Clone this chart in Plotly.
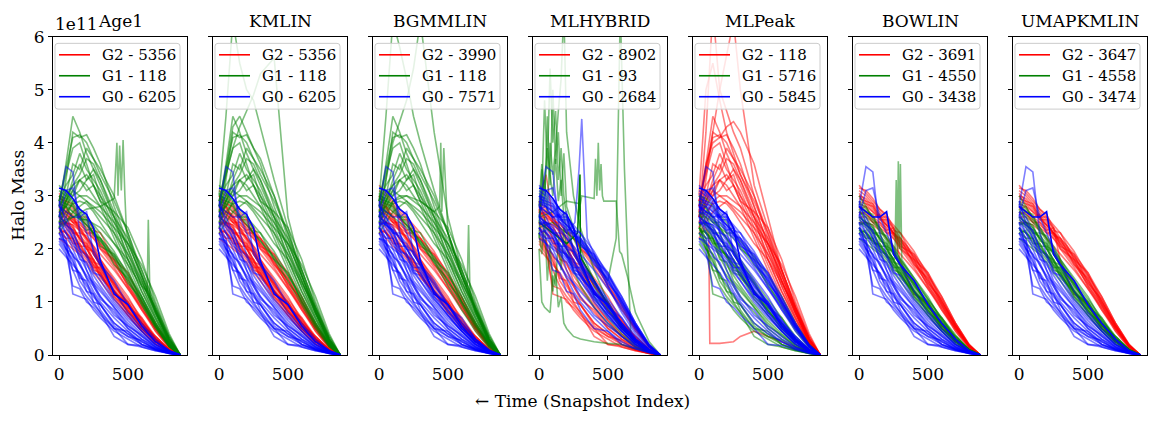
import plotly.graph_objects as go

# ---------------- data (halo mass in units of 1e11) ----------------
PANELS = ["Age1", "KMLIN", "BGMMLIN", "MLHYBRID", "MLPeak", "BOWLIN", "UMAPKMLIN"]
COUNT_G2 = [5356, 5356, 3990, 8902, 118, 3691, 3647]
COUNT_G1 = [118, 118, 118, 93, 5716, 4550, 4558]
COUNT_G0 = [6205, 6205, 7571, 2684, 5845, 3438, 3474]

SNAP = [0, 50, 100, 150, 200, 250, 300, 400, 500, 600, 700, 800, 880]

E01 = [2.4, 2.2, 1.15, 1.1, 1.05, 0.85, 0.7, 0.45, 0.3, 0.15, 0.08, 0.03, 0]
E02 = [2.3, 2.0, 1.75, 1.5, 1.3, 1.1, 0.95, 0.6, 0.4, 0.2, 0.1, 0.04, 0]
E03 = [2.6, 2.3, 2.0, 1.7, 1.45, 1.2, 1.0, 0.7, 0.45, 0.25, 0.12, 0.05, 0]
E04 = [2.1, 1.9, 1.6, 1.3, 1.1, 0.95, 0.8, 0.5, 0.35, 0.2, 0.1, 0.03, 0]
E05 = [2.5, 2.3, 2.1, 1.85, 1.6, 1.3, 1.1, 0.8, 0.5, 0.3, 0.15, 0.05, 0]
E06 = [2.8, 2.6, 2.3, 2.0, 1.6, 1.35, 1.1, 0.75, 0.55, 0.35, 0.15, 0.05, 0]
E07 = [2.2, 2.0, 1.8, 1.4, 1.2, 1.0, 0.8, 0.35, 0.2, 0.15, 0.08, 0.03, 0]
E08 = [2.4, 2.1, 1.9, 1.7, 1.5, 1.35, 1.2, 0.9, 0.6, 0.35, 0.18, 0.06, 0]
E09 = [2.0, 1.85, 1.7, 1.55, 1.35, 1.15, 0.95, 0.6, 0.4, 0.25, 0.12, 0.04, 0]
E10 = [2.7, 2.4, 2.2, 1.9, 1.7, 1.5, 1.3, 0.95, 0.65, 0.4, 0.2, 0.06, 0]
E11 = [2.8, 3.55, 3.45, 2.3, 1.9, 1.6, 1.4, 1.0, 0.7, 0.45, 0.2, 0.07, 0]
E12 = [2.6, 3.1, 3.15, 2.6, 2.3, 2.0, 1.7, 1.2, 0.8, 0.5, 0.25, 0.08, 0]
M01 = [2.5, 2.4, 2.25, 2.1, 1.9, 1.75, 1.6, 1.25, 0.9, 0.55, 0.28, 0.08, 0]
M02 = [2.7, 2.6, 2.4, 2.2, 2.0, 1.8, 1.6, 1.2, 0.85, 0.5, 0.25, 0.07, 0]
M03 = [2.3, 2.2, 2.05, 1.95, 1.8, 1.65, 1.5, 1.15, 0.8, 0.5, 0.25, 0.08, 0]
M04 = [2.9, 2.75, 2.6, 2.4, 2.2, 1.95, 1.75, 1.35, 0.95, 0.6, 0.3, 0.1, 0]
M05 = [2.6, 2.5, 2.35, 2.2, 2.0, 1.8, 1.55, 1.1, 0.75, 0.45, 0.2, 0.06, 0]
M06 = [2.4, 2.3, 2.2, 2.05, 1.85, 1.7, 1.5, 1.2, 0.9, 0.6, 0.3, 0.09, 0]
M07 = [2.8, 2.65, 2.5, 2.35, 2.15, 1.9, 1.7, 1.3, 1.0, 0.65, 0.32, 0.1, 0]
M08 = [2.2, 2.1, 2.0, 1.9, 1.75, 1.55, 1.4, 1.05, 0.75, 0.45, 0.22, 0.07, 0]
M09 = [3.0, 2.8, 2.55, 2.4, 2.2, 2.0, 1.8, 1.4, 1.05, 0.7, 0.35, 0.1, 0]
M10 = [2.5, 2.45, 2.3, 2.25, 2.1, 1.9, 1.7, 1.3, 0.95, 0.62, 0.3, 0.09, 0]
M11 = [2.6, 2.5, 2.4, 2.2, 2.05, 1.95, 1.75, 1.35, 1.0, 0.6, 0.3, 0.1, 0]
M12 = [2.35, 2.3, 2.15, 2.0, 1.9, 1.7, 1.55, 1.2, 0.85, 0.55, 0.27, 0.08, 0]
L01 = [2.9, 2.85, 2.7, 2.6, 2.45, 2.3, 2.15, 1.8, 1.4, 0.95, 0.5, 0.15, 0]
L02 = [3.1, 3.0, 2.85, 2.7, 2.55, 2.4, 2.2, 1.85, 1.45, 1.0, 0.55, 0.17, 0]
L03 = [2.6, 2.6, 2.5, 2.4, 2.3, 2.2, 2.05, 1.7, 1.35, 0.9, 0.45, 0.14, 0]
L04 = [2.8, 2.7, 2.6, 2.5, 2.4, 2.25, 2.1, 1.75, 1.3, 0.85, 0.45, 0.13, 0]
L05 = [3.2, 3.05, 2.9, 2.75, 2.6, 2.45, 2.3, 1.95, 1.5, 1.05, 0.55, 0.16, 0]
L06 = [2.7, 2.65, 2.55, 2.45, 2.35, 2.2, 2.0, 1.65, 1.25, 0.85, 0.5, 0.18, 0]
L07 = [3.0, 2.95, 2.8, 2.65, 2.5, 2.3, 2.15, 1.85, 1.5, 1.1, 0.6, 0.2, 0]
L08 = [2.5, 2.5, 2.45, 2.35, 2.2, 2.05, 1.9, 1.6, 1.25, 0.9, 0.5, 0.16, 0]
L09 = [2.85, 2.8, 2.7, 2.55, 2.45, 2.3, 2.2, 1.9, 1.55, 1.1, 0.6, 0.18, 0]
L10 = [2.95, 2.9, 2.75, 2.6, 2.45, 2.3, 2.1, 1.75, 1.4, 1.0, 0.55, 0.18, 0]
T01 = [3.15, 3.1, 2.95, 2.75, 2.65, 2.4, 1.77, 1.15, 0.95, 0.55, 0.25, 0.08, 0]
T02 = [2.8, 2.7, 2.6, 2.6, 2.7, 1.9, 1.7, 1.4, 0.95, 0.6, 0.3, 0.08, 0]
E13 = [2.3, 2.1, 1.6, 1.55, 1.2, 1.15, 0.85, 0.5, 0.45, 0.2, 0.12, 0.04, 0]
E14 = [2.5, 2.0, 1.9, 1.45, 1.4, 1.0, 0.95, 0.55, 0.35, 0.28, 0.1, 0.03, 0]
E15 = [2.2, 2.15, 1.85, 1.75, 1.45, 1.3, 1.05, 0.85, 0.5, 0.3, 0.14, 0.04, 0]
E16 = [2.65, 2.45, 2.35, 2.0, 1.85, 1.55, 1.5, 1.05, 0.75, 0.45, 0.2, 0.06, 0]
E17 = [2.9, 2.5, 2.2, 1.8, 1.75, 1.4, 1.25, 0.9, 0.55, 0.38, 0.16, 0.05, 0]
E18 = [2.15, 1.95, 1.3, 1.25, 1.0, 0.9, 0.75, 0.5, 0.2, 0.18, 0.1, 0.03, 0]
M13 = [2.45, 2.5, 2.3, 2.3, 2.0, 1.95, 1.65, 1.35, 0.9, 0.7, 0.3, 0.09, 0]
M14 = [2.75, 2.5, 2.45, 2.15, 2.1, 1.75, 1.7, 1.15, 1.0, 0.55, 0.35, 0.1, 0]
M15 = [2.3, 2.35, 2.1, 2.1, 1.85, 1.8, 1.45, 1.2, 0.8, 0.6, 0.25, 0.08, 0]
M16 = [2.55, 2.45, 2.35, 2.05, 2.05, 1.65, 1.65, 1.2, 0.95, 0.5, 0.3, 0.08, 0]
M17 = [2.85, 2.7, 2.65, 2.3, 2.25, 2.05, 1.8, 1.45, 1.1, 0.65, 0.35, 0.1, 0]
M18 = [2.4, 2.2, 2.2, 1.95, 1.9, 1.6, 1.55, 1.1, 0.85, 0.5, 0.25, 0.07, 0]
L11 = [2.75, 2.8, 2.6, 2.65, 2.35, 2.4, 2.05, 1.9, 1.35, 1.05, 0.55, 0.17, 0]
L12 = [3.05, 2.9, 2.85, 2.6, 2.6, 2.35, 2.3, 1.8, 1.55, 1.0, 0.6, 0.19, 0]
L13 = [2.65, 2.7, 2.5, 2.5, 2.3, 2.3, 2.0, 1.8, 1.3, 0.95, 0.5, 0.15, 0]
L14 = [3.0, 2.85, 2.8, 2.55, 2.55, 2.25, 2.2, 1.7, 1.45, 0.95, 0.55, 0.16, 0]
POOL = [E01, E02, E03, E04, E05, E06, E07, E08, E09, E10, E11, E12,
        M01, M02, M03, M04, M05, M06, M07, M08, M09, M10, M11, M12,
        L01, L02, L03, L04, L05, L06, L07, L08, L09, L10, T01, T02,
        E13, E14, E15, E16, E17, E18, M13, M14, M15, M16, M17, M18,
        L11, L12, L13, L14]

# group of each pooled track in each panel (R = G2, G = G1, B = G0)
ASSIGN = {
    "Age1":      "BBBBBBBBBBBB" "RRRRRRRRRRRR" "GGRRGRGRGR" "BB" "BBBBBB" "RRRRRR" "GRRG",
    "KMLIN":     "BBBBBBBBBBBB" "RRRRRRRRRRRR" "GRRRGRGRRR" "BB" "BBBBBB" "RRRRRR" "RGRR",
    "BGMMLIN":   "BBBBBBBBBBBB" "RBRRBRRBRBRR" "GRRGRRGRRG" "BB" "BBBBBB" "BRRBRB" "RGRR",
    "MLHYBRID":  "RRBRRBRBRRBB" "BRBRBBRBBRBR" "BBRBBRBBBB" "BB" "BRRBRR" "BRBBRB" "BBRB",
    "MLPeak":    "GGBGGBGGBGBB" "BGBGBGBBGBBG" "BBGBBBGBBB" "BB" "GGBGGB" "GBGBBG" "BBGB",
    "BOWLIN":    "BBBBBBBBBBBB" "GGGGGGGGGGGG" "RRRRRRRRRR" "RB" "BBBBBB" "GGGGGG" "RRRR",
    "UMAPKMLIN": "BBBBBBBBBBBB" "GGGGGGGGGGGG" "RRRRRRRRRR" "RB" "BBBBBB" "GGGGGG" "RRRR",
}
OPAQUE = {"Age1": [34], "KMLIN": [34], "BGMMLIN": [34], "MLHYBRID": [34],
          "MLPeak": [34], "BOWLIN": [35], "UMAPKMLIN": [35]}

# the massive "118" population
H01 = [2.8, 3.6, 4.5, 4.2, 3.8, 3.5, 3.2, 2.6, 2.0, 1.4, 0.8, 0.25, 0]
H02 = [2.6, 3.3, 4.2, 4.1, 4.15, 3.9, 3.6, 2.8, 2.1, 1.5, 0.85, 0.3, 0]
H03 = [2.9, 3.2, 3.4, 3.8, 3.5, 3.3, 3.1, 2.5, 1.9, 1.3, 0.75, 0.22, 0]
H04 = [2.5, 2.9, 3.1, 3.3, 3.4, 3.2, 3.0, 2.6, 2.2, 1.6, 0.9, 0.3, 0]
H05 = [2.7, 2.8, 3.0, 3.1, 3.3, 3.5, 3.3, 2.7, 2.0, 1.3, 0.7, 0.2, 0]
H06 = [2.4, 2.6, 2.9, 3.0, 3.0, 2.9, 2.8, 2.5, 2.1, 1.5, 0.85, 0.28, 0]
H07 = [2.8, 3.0, 3.2, 3.4, 3.7, 3.6, 3.3, 2.6, 1.8, 1.2, 0.65, 0.2, 0]
H08 = [2.3, 2.5, 2.7, 2.8, 2.9, 2.8, 2.7, 2.4, 2.1, 1.7, 1.1, 0.4, 0]
H09 = [2.6, 2.8, 3.1, 3.0, 2.9, 2.75, 2.6, 2.3, 1.9, 1.4, 0.8, 0.25, 0]
H10 = [2.9, 3.4, 3.9, 4.0, 3.6, 3.2, 2.9, 2.3, 1.7, 1.1, 0.6, 0.2, 0]
H11 = [2.5, 2.7, 2.85, 2.9, 2.85, 2.7, 2.5, 2.1, 1.8, 1.35, 0.9, 0.35, 0]
H12 = [2.7, 2.9, 3.2, 3.3, 3.2, 3.0, 2.8, 2.2, 1.6, 1.0, 0.55, 0.18, 0]
H13 = [2.6, 3.0, 3.6, 3.5, 3.9, 3.7, 3.4, 2.9, 2.3, 1.6, 0.95, 0.3, 0]
H14 = [2.8, 3.1, 3.0, 3.3, 3.1, 3.2, 2.9, 2.7, 2.4, 1.8, 1.0, 0.35, 0]
H15 = [2.4, 2.9, 3.3, 3.6, 3.3, 3.4, 3.0, 2.4, 1.8, 1.2, 0.7, 0.22, 0]
H16 = [2.9, 3.5, 4.1, 4.15, 4.0, 3.7, 3.5, 3.0, 2.3, 1.5, 0.85, 0.25, 0]
HIGH = [H01, H02, H03, H04, H05, H06, H07, H08, H09, H10, H11, H12, H13, H14, H15, H16]
HIGH_GROUP = {"Age1": "G", "KMLIN": "G", "BGMMLIN": "G", "MLHYBRID": "-",
              "MLPeak": "R", "BOWLIN": "-", "UMAPKMLIN": "-"}

# panel-specific tracks
K01 = [3.0, 4.5, 6.3, 5.5, 5.0, 4.8, 4.3, 3.3, 2.4, 1.5, 0.8, 0.25, 0]
K02 = [2.8, 3.4, 3.9, 4.3, 4.6, 4.9, 5.3, 5.6, 2.6, 1.6, 0.9, 0.3, 0]
K03 = [2.7, 3.5, 4.3, 4.5, 4.2, 3.9, 3.7, 3.0, 2.2, 1.4, 0.8, 0.25, 0]
BG01 = [2.9, 4.5, 6.3, 5.8, 5.2, 4.5, 4.0, 3.1, 2.3, 1.5, 0.85, 0.25, 0]
BG02 = [2.7, 3.3, 4.0, 4.4, 4.8, 5.4, 6.3, 4.2, 2.6, 1.6, 0.9, 0.3, 0]
P01 = [2.6, 4.2, 6.5, 5.0, 4.6, 4.2, 3.9, 3.0, 2.2, 1.4, 0.8, 0.25, 0]
P02 = [2.8, 3.5, 4.2, 5.0, 5.6, 6.3, 5.0, 3.2, 2.4, 1.6, 0.9, 0.3, 0]
P03 = [3.0, 5.0, 5.5, 4.8, 4.2, 3.8, 3.4, 2.8, 2.1, 1.4, 0.8, 0.25, 0]
P04 = [2.7, 3.6, 4.0, 4.1, 4.3, 4.4, 4.2, 3.6, 2.6, 1.6, 0.9, 0.3, 0]

AGE1_SPIKE_X = [0, 100, 200, 300, 400, 420, 428, 440, 452, 465, 478, 490, 550, 650, 750, 850, 880]
AGE1_SPIKE_Y = [2.4, 2.6, 2.75, 2.8, 2.95, 4.0, 3.0, 3.95, 3.1, 4.05, 3.0, 2.3, 1.8, 1.1, 0.55, 0.1, 0]
AGE1_SPIKE2_X = [0, 100, 200, 300, 400, 500, 600, 640, 648, 660, 700, 800, 880]
AGE1_SPIKE2_Y = [2.5, 2.6, 2.55, 2.4, 2.1, 1.7, 1.3, 1.2, 2.55, 1.1, 0.8, 0.25, 0]
BG_SPIKE_X = [0, 100, 200, 300, 400, 440, 448, 456, 470, 500, 600, 640, 650, 660, 700, 800, 880]
BG_SPIKE_Y = [2.6, 2.9, 3.0, 2.9, 2.7, 2.8, 4.0, 2.7, 3.9, 2.3, 1.5, 1.3, 2.45, 1.2, 0.8, 0.25, 0]
BOW_SPIKE_X = [0, 100, 200, 260, 270, 278, 285, 293, 300, 310, 400, 500, 600, 700, 800, 880]
BOW_SPIKE_Y = [2.35, 2.15, 1.95, 1.8, 3.3, 1.9, 3.65, 2.0, 3.6, 1.8, 1.45, 1.05, 0.7, 0.38, 0.1, 0]
PK_DROP_X = [0, 40, 70, 78, 150, 250, 300, 400, 500, 600, 700, 800, 880]
PK_DROP_Y = [2.2, 2.4, 2.3, 0.22, 0.22, 0.25, 0.35, 0.45, 0.35, 0.25, 0.15, 0.05, 0]

HY_X = [0, 20, 40, 60, 80, 100, 120, 140, 160, 180, 200, 250, 300, 400, 500, 600, 700, 800, 880]
HY01 = [2.2, 3.5, 2.8, 4.5, 3.2, 5.0, 3.6, 4.2, 3.0, 3.8, 2.8, 2.4, 2.0, 1.4, 0.9, 0.5, 0.25, 0.08, 0]
HY02 = [2.6, 3.0, 4.8, 3.5, 5.4, 4.0, 4.6, 3.3, 3.9, 3.0, 2.6, 2.2, 1.9, 1.3, 0.85, 0.5, 0.25, 0.07, 0]
HY03 = [2.5, 2.9, 3.3, 2.7, 4.0, 3.4, 3.9, 4.6, 5.2, 6.5, 4.2, 3.0, 2.4, 1.6, 1.0, 0.55, 0.25, 0.08, 0]
HY04 = [2.0, 1.0, 0.9, 0.85, 0.8, 1.5, 1.3, 2.2, 1.6, 2.4, 2.0, 1.6, 1.3, 0.9, 0.6, 0.35, 0.15, 0.05, 0]
HY05 = [2.8, 3.6, 3.1, 3.9, 3.4, 3.0, 3.7, 2.9, 3.3, 2.6, 2.4, 2.0, 1.7, 1.1, 0.7, 0.4, 0.18, 0.05, 0]
HY06 = [2.3, 1.9, 2.6, 1.4, 2.1, 1.2, 1.6, 0.9, 1.1, 0.6, 0.5, 0.35, 0.3, 0.25, 0.22, 0.2, 0.12, 0.05, 0]
HY_STEP_X = [0, 100, 200, 300, 310, 400, 410, 420, 430, 440, 450, 460, 470, 500, 560, 585, 600, 640, 700, 800, 880]
HY_STEP_Y = [2.6, 2.7, 2.9, 2.85, 3.0, 2.95, 3.7, 3.0, 4.0, 3.1, 3.6, 3.0, 2.9, 2.9, 2.9, 1.95, 1.9, 1.5, 0.8, 0.25, 0]
HY_TALL_X = [0, 100, 200, 300, 400, 500, 560, 590, 620, 667, 700, 800, 880]
HY_TALL_Y = [2.4, 2.5, 2.3, 2.1, 1.8, 1.4, 2.2, 6.5, 3.5, 0.3, 0.2, 0.05, 0]
HY_MID_X = [0, 100, 200, 280, 297, 300, 310, 400, 500, 600, 700, 800, 880]
HY_MID_Y = [2.5, 2.3, 2.1, 2.3, 3.4, 1.9, 1.8, 1.4, 0.95, 0.55, 0.25, 0.07, 0]
HY_BSPIKE_X = [0, 100, 200, 260, 290, 310, 330, 350, 400, 500, 600, 700, 800, 880]
HY_BSPIKE_Y = [2.9, 2.7, 2.3, 2.5, 3.5, 4.45, 3.3, 2.2, 1.9, 1.3, 0.8, 0.4, 0.1, 0]
HY_RBUMP_X = [0, 30, 50, 70, 100, 150, 200, 300, 400, 500, 600, 700, 800, 880]
HY_RBUMP_Y = [2.7, 3.2, 3.4, 3.1, 2.5, 2.3, 2.0, 1.5, 1.0, 0.65, 0.35, 0.15, 0.05, 0]

# (x, y, group, opaque) extra tracks per panel
EXTRA = {
    "Age1": [(AGE1_SPIKE_X, AGE1_SPIKE_Y, "G", False), (AGE1_SPIKE2_X, AGE1_SPIKE2_Y, "G", False)],
    "KMLIN": [(SNAP, K01, "G", False), (SNAP, K02, "G", False), (SNAP, K03, "G", False)],
    "BGMMLIN": [(SNAP, BG01, "G", False), (SNAP, BG02, "G", False), (BG_SPIKE_X, BG_SPIKE_Y, "G", False)],
    "MLHYBRID": [(HY_X, HY01, "G", False), (HY_X, HY02, "G", False), (HY_X, HY03, "G", False),
                 (HY_X, HY04, "G", False), (HY_X, HY05, "G", False), (HY_X, HY06, "G", False),
                 (HY_STEP_X, HY_STEP_Y, "G", False), (HY_TALL_X, HY_TALL_Y, "G", False),
                 (HY_MID_X, HY_MID_Y, "G", True), (HY_BSPIKE_X, HY_BSPIKE_Y, "B", False),
                 (HY_RBUMP_X, HY_RBUMP_Y, "R", False)],
    "MLPeak": [(SNAP, P01, "R", False), (SNAP, P02, "R", False), (SNAP, P03, "R", False),
               (SNAP, P04, "R", False), (PK_DROP_X, PK_DROP_Y, "R", False)],
    "BOWLIN": [(BOW_SPIKE_X, BOW_SPIKE_Y, "G", False)],
    "UMAPKMLIN": [],
}

COLORS = {"R": "#ff0000", "G": "#008000", "B": "#0000ff"}
ORDER = ["R", "G", "B"]

# ---------------- layout ----------------
W, H = 1149, 426
FONT = "DejaVu Serif"
LEFT0, STEP, PW = 53, 160, 134
TOP, BOT = 28, 362


def px(x):
    return x / W


def py(y):
    return (H - y) / H


fig = go.Figure()
layout = dict(width=W, height=H, autosize=False, margin=dict(l=0, r=0, t=0, b=0),
              paper_bgcolor="white", plot_bgcolor="white",
              font=dict(family=FONT, color="black"), showlegend=False)
annotations, shapes = [], []

for i, name in enumerate(PANELS):
    k = "" if i == 0 else str(i + 1)
    xa, ya = "x" + k, "y" + k
    left = LEFT0 + STEP * i
    layout["xaxis" + k] = dict(domain=[px(left), px(left + PW)], anchor=ya,
                               range=[-44, 929], tickvals=[0, 500], ticktext=["0", "500"],
                               ticks="outside", ticklen=4, tickcolor="black",
                               showline=True, linecolor="black", linewidth=1, mirror=True,
                               showgrid=False, zeroline=False,
                               tickfont=dict(family=FONT, size=17))
    layout["yaxis" + k] = dict(domain=[py(BOT), py(TOP)], anchor=xa,
                               range=[0, 6], tickvals=[0, 1, 2, 3, 4, 5, 6],
                               ticks="outside", ticklen=4, tickcolor="black",
                               showticklabels=(i == 0),
                               showline=True, linecolor="black", linewidth=1, mirror=True,
                               showgrid=False, zeroline=False,
                               tickfont=dict(family=FONT, size=17))
    tracks = []
    for j, g in enumerate(ASSIGN[name]):
        tracks.append((SNAP, POOL[j], g, j in OPAQUE[name]))
    if HIGH_GROUP[name] != "-":
        for h in HIGH:
            tracks.append((SNAP, h, HIGH_GROUP[name], False))
    tracks += EXTRA[name]
    for g in ORDER:
        for (tx, ty, tg, op) in tracks:
            if tg != g:
                continue
            fig.add_trace(go.Scatter(x=tx, y=ty, mode="lines", xaxis=xa, yaxis=ya,
                                     line=dict(color=COLORS[g], width=1.6),
                                     opacity=1.0 if op else 0.5,
                                     showlegend=False, hoverinfo="skip"))
    # legend box drawn in matplotlib style
    bx0, bx1, by0, by1, r = left + 2, left + 127, 35, 104, 3
    path = (f"M {px(bx0 + r)},{py(by0)} L {px(bx1 - r)},{py(by0)} "
            f"Q {px(bx1)},{py(by0)} {px(bx1)},{py(by0 + r)} L {px(bx1)},{py(by1 - r)} "
            f"Q {px(bx1)},{py(by1)} {px(bx1 - r)},{py(by1)} L {px(bx0 + r)},{py(by1)} "
            f"Q {px(bx0)},{py(by1)} {px(bx0)},{py(by1 - r)} L {px(bx0)},{py(by0 + r)} "
            f"Q {px(bx0)},{py(by0)} {px(bx0 + r)},{py(by0)} Z")
    shapes.append(dict(type="path", path=path, xref="paper", yref="paper",
                       fillcolor="rgba(255,255,255,0.8)", line=dict(color="#cccccc", width=1)))
    for row, (g, lab, cnt) in enumerate((("R", "G2", COUNT_G2[i]), ("G", "G1", COUNT_G1[i]),
                                         ("B", "G0", COUNT_G0[i]))):
        yy = 47 + 22 * row
        shapes.append(dict(type="line", xref="paper", yref="paper",
                           x0=px(left + 6), x1=px(left + 37), y0=py(yy), y1=py(yy),
                           line=dict(color=COLORS[g], width=1.6)))
        annotations.append(dict(text=f"{lab} - {cnt}", x=px(left + 47), y=py(yy),
                                xref="paper", yref="paper", xanchor="left", yanchor="middle",
                                showarrow=False, font=dict(family=FONT, size=15)))
    annotations.append(dict(text=name, x=px(left + PW / 2), y=py(24),
                            xref="paper", yref="paper", xanchor="center", yanchor="bottom",
                            showarrow=False, font=dict(family=FONT, size=17)))

annotations.append(dict(text="1e11", x=px(LEFT0), y=py(27), xref="paper", yref="paper",
                        xanchor="left", yanchor="bottom", showarrow=False,
                        font=dict(family=FONT, size=17)))
annotations.append(dict(text="← Time (Snapshot Index)", x=px(582), y=py(410),
                        xref="paper", yref="paper", xanchor="center", yanchor="middle",
                        showarrow=False, font=dict(family=FONT, size=17)))
annotations.append(dict(text="Halo Mass", x=px(18), y=py(195), textangle=-90,
                        xref="paper", yref="paper", xanchor="center", yanchor="middle",
                        showarrow=False, font=dict(family=FONT, size=17)))
layout["annotations"] = annotations
layout["shapes"] = shapes
fig.update_layout(**layout)
fig.write_html("out.html")
